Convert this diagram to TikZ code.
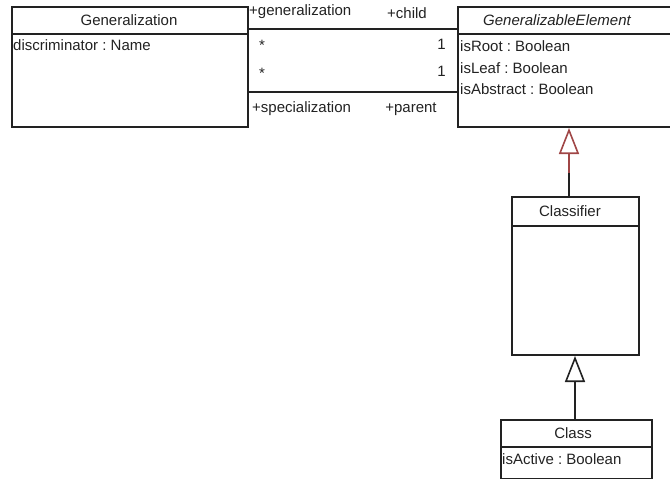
\documentclass[tikz,border=0pt]{standalone}
\usepackage{fontspec}
\setmainfont{Liberation Sans}
\usetikzlibrary{arrows.meta}
\frenchspacing
\definecolor{ink}{HTML}{222222}
\definecolor{gred}{HTML}{A04646}
\tikzset{
  umlbox/.style={draw=ink, line width=2pt, rectangle, inner sep=0pt, anchor=north west},
  divline/.style={draw=ink, line width=1.6pt},
  conn/.style={draw=ink, line width=1.6pt},
  txt/.style={inner sep=0pt, text=ink, font=\fontsize{15}{18}\selectfont},
  gentip/.style={-{Triangle[open, length=26pt, width=20pt, line width=1.6pt]}},
}
\begin{document}
\begin{tikzpicture}[x=1pt, y=-1pt]
\useasboundingbox (0,0) rectangle (670,479);
\clip (0,0) rectangle (670,479);
% boxes
\node[umlbox, minimum width=236pt, minimum height=120pt] (gen) at (11,6) {};
\node[umlbox, minimum width=220pt, minimum height=120pt] (ge) at (457,6) {};
\node[umlbox, minimum width=127pt, minimum height=158pt] (cls) at (511,196) {};
\node[umlbox, minimum width=151pt, minimum height=59pt] (klass) at (500,419) {};
% dividers
\draw[divline] (gen.west |- 0,34) -- (gen.east |- 0,34);
\draw[divline] (ge.west |- 0,34) -- (ge.east |- 0,34);
\draw[divline] (cls.west |- 0,226) -- (cls.east |- 0,226);
\draw[divline] (klass.west |- 0,447) -- (klass.east |- 0,447);
% texts
\node[txt] (genname) at (129,20) {Generalization};
\node[txt, anchor=west] (genattr) at (13,45) {discriminator : Name};
\node[txt] (gename) at (557,20) {\itshape GeneralizableElement};
\node[txt, anchor=west] (geattr1) at (460,46) {isRoot : Boolean};
\node[txt, anchor=west] (geattr2) at (460,68) {isLeaf : Boolean};
\node[txt, anchor=west] (geattr3) at (460,89) {isAbstract : Boolean};
\node[txt] (clsname) at (570,211) {Classifier};
\node[txt] (klassname) at (573,433) {Class};
\node[txt, anchor=west] (klassattr) at (502,459) {isActive : Boolean};
% associations
\draw[conn] (gen.east |- 0,29) -- (ge.west |- 0,29);
\draw[conn] (gen.east |- 0,92) -- (ge.west |- 0,92);
\node[txt, anchor=west] (lgen) at (249,12) {+generalization};
\node[txt] (lchild) at (407,13) {+child};
\node[txt] (m1a) at (262,45) {*};
\node[txt] (m1b) at (262,73) {*};
\node[txt, anchor=east] (m2a) at (446,44) {1};
\node[txt, anchor=east] (m2b) at (446,71) {1};
\node[txt, anchor=west] (lspec) at (252,109) {+specialization};
\node[txt] (lparent) at (411,109) {+parent};
% generalization arrows
\coordinate (midred) at (569,173);
\draw[conn] (cls.north -| midred) -- (midred);
\draw[conn, draw=gred, gentip] (midred) -- (ge.south -| midred);
\draw[conn, gentip] (klass.north -| 575,0) -- (cls.south -| 575,0);
\end{tikzpicture}
\end{document}
